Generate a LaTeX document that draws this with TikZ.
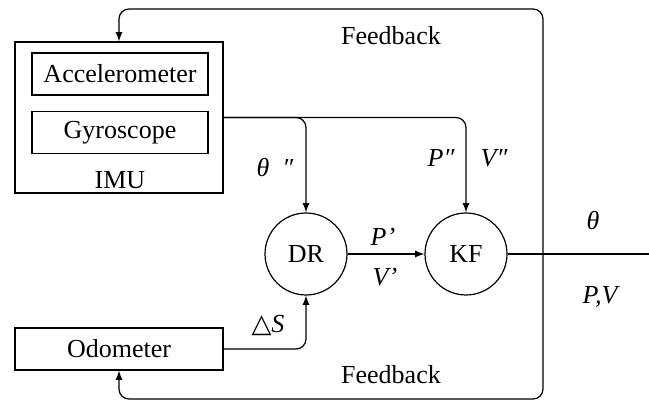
\documentclass[tikz,border=0pt]{standalone}
\usepackage{fontspec}
\setmainfont{Liberation Serif}
\newfontfamily\symfont{DejaVu Sans}
\begin{document}
\begin{tikzpicture}[x=0.5pt,y=-0.5pt,line width=0.6pt,>=latex,
		font=\fontsize{13}{15}\selectfont,
		block/.style={draw,rectangle,inner sep=0pt,minimum width=104pt,minimum height=21pt},
		filt/.style={draw,circle,inner sep=0pt,minimum size=41pt},
		lbl/.style={inner sep=0pt,font=\fontsize{13}{15}\selectfont\itshape},
		conn/.style={->,rounded corners=5pt}]
		\useasboundingbox (0,0) rectangle (649,401);
		\node[block,minimum height=75.5pt] (imu) at (119,117.5) {};
		\node[block,minimum width=88pt] (acc) at (120,74) {Accelerometer};
		\node[block,minimum width=88pt] (gyro) at (120,132.5) {Gyroscope};
		\node[inner sep=0pt] (imulbl) at (120,180) {IMU};
		\node[block] (odo) at (119,349) {Odometer};
		\node[filt] (dr) at (306,254) {DR};
		\node[filt] (kf) at (466,254) {KF};
		\coordinate (fb) at (543,254);
		\coordinate (out) at (649,254);
		\draw[-] (kf) -- (out);
		\draw[conn] (fb) |- (imu.north |- 0,9) -- (imu.north);
		\draw[conn] (fb) |- (odo.south |- 0,399) -- (odo.south);
		\draw[conn] (imu.east) -| (dr.north);
		\draw[conn] (imu.east) -| (kf.north);
		\draw[->] (dr) -- (kf);
		\draw[conn] (odo.east) -| (dr.south);
		\node[inner sep=0pt] (fbtop) at (391,36) {Feedback};
		\node[inner sep=0pt] (fbbot) at (391,375) {Feedback};
		\node[lbl] (th2) at (275,168) {θ\ \ ″};
		\node[lbl] (p2) at (441,158) {P″};
		\node[lbl] (v2) at (494,158) {V″};
		\node[lbl] (p1) at (383,237) {P’};
		\node[lbl] (v1) at (385,277) {V’};
		\node[lbl] (th) at (593,221) {θ};
		\node[lbl] (pv) at (600,297) {P,V};
		\node[inner sep=0pt] (ds) at (268,325) {{\symfont △}\textit{S}};
	\end{tikzpicture}
\end{document}
